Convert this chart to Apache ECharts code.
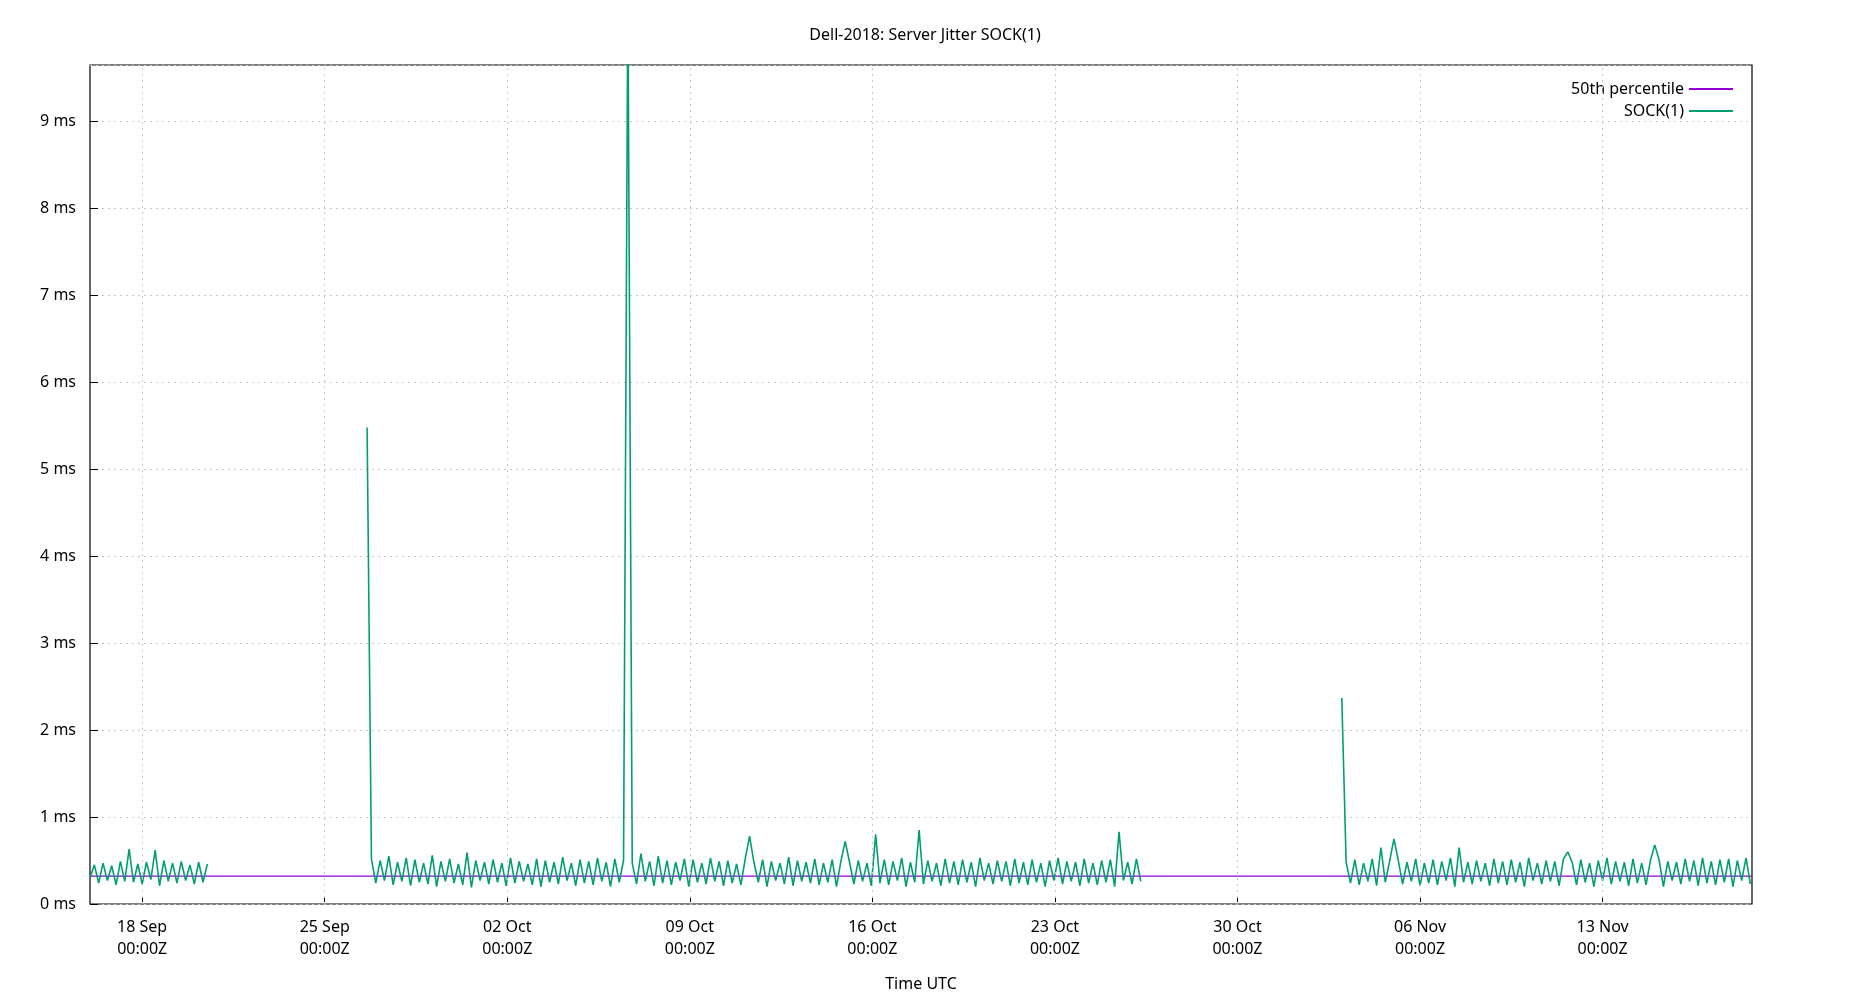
<!DOCTYPE html>
<html><head><meta charset="utf-8">
<script src="https://cdn.jsdelivr.net/npm/echarts@6/dist/echarts.min.js"></script>
<style>html,body{margin:0;padding:0;background:#fff}#c{width:1850px;height:1000px}</style>
</head><body><div id="c"></div>
<script>
const title = 'Dell-2018: Server Jitter SOCK(1)';
const xMin = '2018-09-16T00:00:00Z', xMax = '2018-11-18T17:30:00Z';
const tickDates = ['2018-09-18','2018-09-25','2018-10-02','2018-10-09','2018-10-16','2018-10-23','2018-10-30','2018-11-06','2018-11-13'];
const yTicks = [0,1,2,3,4,5,6,7,8,9];
const median = 0.32;
const stepHours = 4;
const seg1Start = '2018-09-16T00:00:00Z';
const seg1 = [30,45,24,47,27,44,22,49,26,63,25,46,23,48,28,62,21,50,26,47,24,49,27,45,23,48,25,46];
const seg2Start = '2018-09-26T15:00:00Z';
const seg2 = [548,52,24,50,27,55,22,48,26,53,
 21,51,25,47,23,56,20,49,26,52,
 24,46,22,59,19,50,27,48,23,51,
 25,47,21,53,24,49,26,46,22,52,
 20,50,25,48,23,54,27,47,21,51,
 24,49,22,53,26,48,20,52,25,50,
 1050,47,23,58,26,49,21,55,24,50,
 22,48,27,52,20,51,25,47,23,53,
 26,49,21,50,24,46,22,52,78,48,
 25,51,20,49,27,47,23,54,21,50,
 26,48,24,52,22,47,25,51,20,49,
 72,48,23,50,26,47,21,80,24,51,
 22,49,27,53,20,48,25,85,23,50,
 26,47,21,52,24,49,22,51,25,48,
 20,53,27,47,23,50,26,49,21,52,
 24,48,22,51,25,47,20,50,27,53,
 23,49,26,48,21,52,24,47,22,50,
 25,51,20,83,27,48,23,52,26];
const seg3Start = '2018-11-03T00:00:00Z';
const seg3 = [237,48,24,51,22,47,26,52,21,65,25,49,75,50,23,48,26,52,21,47,
 24,51,22,49,27,53,20,65,25,48,23,50,26,47,21,52,24,49,22,51,
 25,48,20,53,27,47,23,50,26,49,21,52,60,48,22,51,25,47,20,50,
 27,53,23,49,26,48,21,52,24,47,22,50,68,51,20,49,27,48,23,52,
 26,50,21,53,24,49,22,51,25,52,20,50,27,53,23];
const legendNames = ['50th percentile','SOCK(1)'];

function seg(start, vals){
  const t0 = Date.parse(start);
  return vals.map((v,i)=>[t0 + i*stepHours*3600000, v/100]);
}
const sockData = seg(seg1Start,seg1).concat([[Date.parse(seg1Start)+seg1.length*stepHours*3600000,null]])
  .concat(seg(seg2Start,seg2)).concat([[Date.parse(seg2Start)+seg2.length*stepHours*3600000,null]])
  .concat(seg(seg3Start,seg3));
const tickMs = tickDates.map(d=>Date.parse(d+'T00:00:00Z'));
const MON=['Jan','Feb','Mar','Apr','May','Jun','Jul','Aug','Sep','Oct','Nov','Dec'];
const font = 'Noto Sans';
const chart = echarts.init(document.getElementById('c'));
chart.setOption({
  animation: false,
  textStyle:{fontFamily:font},
  title:{text:title,left:'center',top:22,textStyle:{fontSize:16,fontWeight:'normal',color:'#000',fontFamily:font}},
  legend:{data:legendNames,orient:'vertical',right:112,top:76,itemGap:6,align:'right',itemWidth:44,itemHeight:2,icon:'rect',
    textStyle:{fontSize:16,color:'#000',fontFamily:font}},
  grid:{left:90,right:98,top:65,bottom:96,show:true,borderColor:'#000',borderWidth:1.2,backgroundColor:'transparent'},
  xAxis:{type:'value',min:Date.parse(xMin),max:Date.parse(xMax),
    name:'Time UTC',nameLocation:'middle',nameGap:72,nameTextStyle:{fontSize:16,color:'#000',fontFamily:font},
    axisLine:{show:false},
    axisTick:{show:true,inside:true,length:8,customValues:tickMs,lineStyle:{color:'#000'}},
    axisLabel:{customValues:tickMs,fontSize:16,color:'#000',lineHeight:22,margin:12,
      formatter:v=>{const d=new Date(v);return String(d.getUTCDate()).padStart(2,'0')+' '+MON[d.getUTCMonth()]+'\n00:00Z';}},
    splitLine:{show:false}},
  yAxis:{type:'value',min:0,max:9.65,interval:1,
    axisLine:{show:false},
    axisTick:{show:true,inside:true,length:8,lineStyle:{color:'#000'}},
    axisLabel:{fontSize:16,color:'#000',margin:14,formatter:v=>v+' ms',showMaxLabel:false},
    splitLine:{show:true,lineStyle:{color:'#c8c8c8',type:[2,4],width:1}}},
  series:[
    {name:legendNames[0],type:'line',symbol:'none',z:2,color:'#9400d3',lineStyle:{width:1.3,color:'#9400d3'},
     data:[[Date.parse(xMin),median],[Date.parse(xMax),median]],
     markLine:{silent:true,symbol:'none',label:{show:false},lineStyle:{color:'#c8c8c8',type:[2,4],width:1},
       data:tickMs.map(t=>({xAxis:t}))}},
    {name:legendNames[1],type:'line',symbol:'none',z:3,connectNulls:false,color:'#009e73',
     lineStyle:{width:1.6,color:'#009e73'},data:sockData}
  ]
});
</script></body></html>
